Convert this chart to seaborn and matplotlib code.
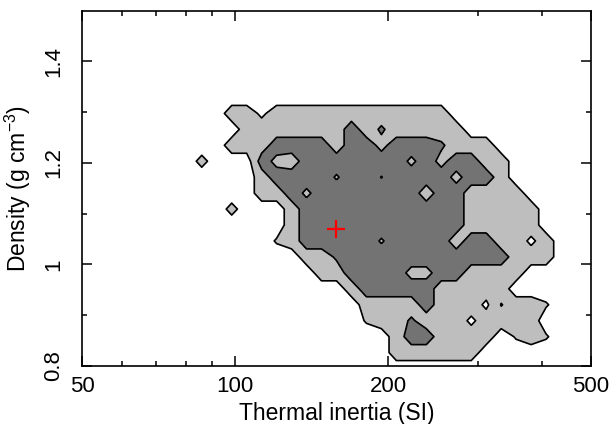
import numpy as np
import matplotlib
matplotlib.use('Agg')
import matplotlib.pyplot as plt
from matplotlib.ticker import FixedLocator, NullFormatter
import seaborn as sns

# sampling grid of the map: thermal inertia (log spaced) and density
inertia = np.logspace(np.log10(50), np.log10(500), 35)
density = 0.795 + 0.0314 * np.arange(24)

# confidence level read at each grid node, top row first
# '.' outside, 'a' inner (light) region, 'b' best (dark) region, others are in-between values
codes = {'.': 0.0, '-': 0.3, 's': 0.6, 'o': 0.8, 'a': 1.0, 'h': 1.2, 'm': 1.3,
         'l': 1.4, 'd': 1.47, 'p': 1.55, 'q': 1.65, 'b': 2.0}
rows = [
    "...................................",  # 1.517
    "...................................",
    "...................................",
    "...................................",
    "...................................",
    "...................................",
    "...................................",  # 1.329
    "..........aa-aaaaaaaaaaaa..........",
    "...........aaaaaaabaqaaaaa.........",
    "..........aaabbbbabbhbbbqaaa.......",
    "........o...bhabbbbbbbmbhbbaa......",
    "............abbbblbbdbbbbhbba......",
    "............aabmbbbbbbbabbaaaa.....",
    "..........o...abbbbbbbbbbbaaaaa....",
    "..............abbbbbbbbbbbaaaaa....",
    ".............sabbbbblbbbbabbaa-a...",
    "...............aaqbbbbbbbbbbbaaa...",
    "................aabbbbhhbbaaaa.....",
    "..................abbbbbaaaaa......",
    "...................aaaabaaa-paas...",
    "...................saaqaaa-aaaa....",
    ".....................abbaaaa.sas...",
    ".....................aaaaaa........",
    "...................................",  # 0.795
]
level = np.array([[codes[c] for c in r] for r in rows[::-1]])

best_inertia = 158
best_density = 1.07

x_major = [50, 100, 200, 500]
x_minor = [60, 70, 80, 90, 300, 400]
y_major = [0.8, 1.0, 1.2, 1.4]
y_labels = ['0.8', '1', '1.2', '1.4']
y_minor = [0.9, 1.1, 1.3]

sns.set_theme(style='ticks')
plt.rcParams['font.family'] = ['Liberation Sans', 'DejaVu Sans']
plt.rcParams['mathtext.default'] = 'regular'

fig = plt.figure(figsize=(6.14, 4.24), dpi=100)
ax = fig.add_axes([82 / 614, 58 / 424, 509 / 614, 355.5 / 424])

ax.contourf(inertia, density, level, levels=[0.5, 1.5, 3], colors=['#bebebe', '#737373'])
ax.contour(inertia, density, level, levels=[0.5, 1.5], colors='black', linewidths=1.2)
sns.scatterplot(x=[best_inertia], y=[best_density], marker='+', s=150, color='red',
                linewidth=1.6, ax=ax, zorder=5, legend=False)

ax.set_xscale('log')
ax.set_xlim(50, 500)
ax.set_ylim(0.8, 1.5)
ax.set_xticks(x_major)
ax.set_xticklabels([str(v) for v in x_major])
ax.xaxis.set_minor_locator(FixedLocator(x_minor))
ax.xaxis.set_minor_formatter(NullFormatter())
ax.set_yticks(y_major)
ax.set_yticklabels(y_labels)
ax.yaxis.set_minor_locator(FixedLocator(y_minor))
plt.setp(ax.get_yticklabels(), rotation=90, va='center')

ax.tick_params(which='both', direction='in', top=True, right=True, color='black',
               labelsize=16, labelcolor='black', width=1.1)
ax.tick_params(which='major', length=7)
ax.tick_params(which='minor', length=3.5)
ax.tick_params(axis='x', which='major', pad=7)
ax.tick_params(axis='y', which='major', pad=13)
for s in ax.spines.values():
    s.set_color('black')
    s.set_linewidth(1.2)

ax.set_xlabel('Thermal inertia (SI)', fontsize=16.5, color='black', labelpad=4)
ax.set_ylabel('Density (g cm$^{-3}$)', fontsize=16.5, color='black', labelpad=7)

fig.savefig('out.png', dpi=100)
